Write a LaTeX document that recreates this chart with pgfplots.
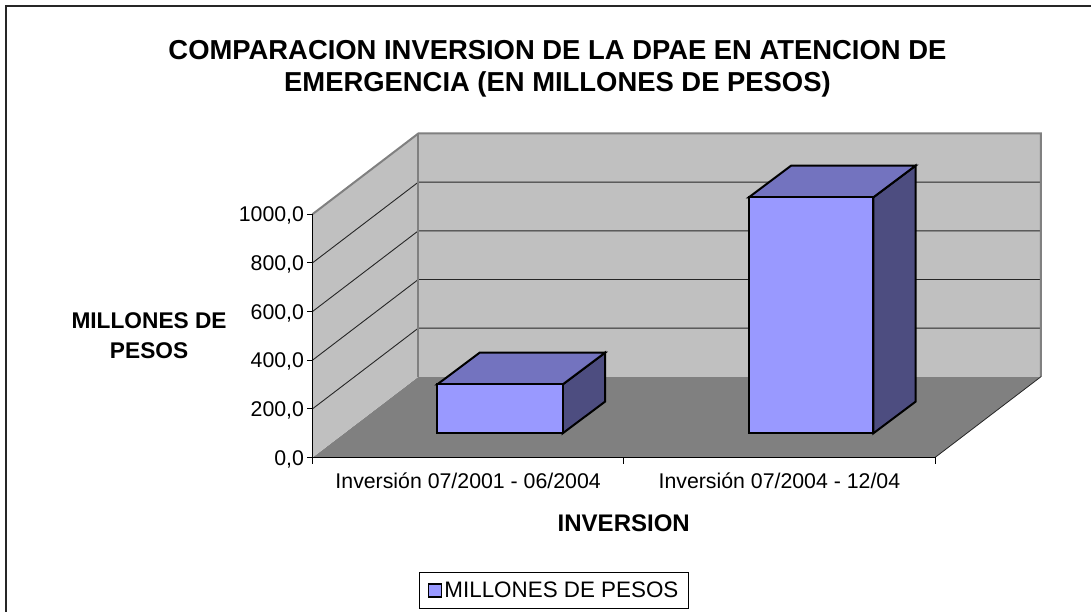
\documentclass[border=0pt]{standalone}
\usepackage{pgfplots}
\pgfplotsset{compat=1.18}
\usepackage{fontspec}
\setmainfont{Liberation Sans}
\definecolor{wall}{RGB}{192,192,192}
\definecolor{floorc}{RGB}{128,128,128}
\definecolor{barfront}{RGB}{153,153,255}
\definecolor{bartop}{RGB}{115,115,191}
\definecolor{barside}{RGB}{77,77,128}
\pgfplotsset{
  face/.style={line width=2pt, draw=black, line join=miter, forget plot},
  gridl/.style={line width=0.9pt, draw=black!85, forget plot}
}
\begin{document}
\begin{tikzpicture}[x=1pt,y=1pt]
\path[use as bounding box] (-312.5,-154.5) rectangle (778.5,457.5);
\draw[black!85, line width=1.5pt] (-306.5,-160) -- (-306.5,451.5) -- (780,451.5);
\begin{axis}[
  at={(0pt,0pt)}, anchor=origin,
  x=311.25pt, y=0.2433pt,
  xmin=0, xmax=2, ymin=0, ymax=1000,
  clip=false, axis on top,
  axis lines=left, axis line style={-, line width=1.2pt, black},
  tick align=outside,
  ytick={0,200,400,600,800,1000},
  xtick={0.5,1.5}, xticklabels={Inversión 07/2001 - 06/2004,Inversión 07/2004 - 12/04},
  minor xtick={0,1,2},
  major tick length=5pt, minor tick length=6pt,
  x tick style={draw=none}, minor x tick style={draw=black, line width=0.8pt},
  y tick style={draw=black, line width=0.8pt},
  tick label style={font=\fontsize{21.3}{25}\selectfont},
  /pgf/number format/assume math mode=true,
  yticklabel style={/pgf/number format/fixed, /pgf/number format/fixed zerofill, /pgf/number format/precision=1, /pgf/number format/use comma, /pgf/number format/1000 sep={}, yshift=-1.5pt},
  xticklabel style={yshift=-7pt},
  xlabel={\textbf{INVERSION}},
  xlabel style={at={(axis cs:1,-270)}, anchor=center, font=\fontsize{24}{28}\selectfont},
  ylabel={\textbf{MILLONES DE}\\[4pt]\textbf{PESOS}},
  ylabel style={at={(axis cs:-0.525,502)}, anchor=center, rotate=-90, align=center, font=\fontsize{22.7}{26}\selectfont},
  title={\textbf{COMPARACION INVERSION DE LA DPAE EN ATENCION DE}\\\textbf{EMERGENCIA (EN MILLONES DE PESOS)}},
  title style={at={(axis cs:0.787,1572)}, anchor=center, align=center, font=\fontsize{27.4}{32}\selectfont},
  legend style={at={(axis cs:0.776,-546)}, anchor=center, draw=black, line width=0.8pt,
    font=\fontsize{22.4}{26}\selectfont, inner xsep=8pt, inner ysep=7pt},
  legend image code/.code={\draw[#1] (0pt,-6.5pt) rectangle (13pt,6.5pt);}
]
% floor and walls
\addplot[fill=floorc, draw=none, forget plot] coordinates {(0,0) (2,0) (2.34,331.7) (0.34,331.7)} --cycle;
\addplot[fill=wall, draw=none, forget plot] coordinates {(0,0) (0.34,331.7) (0.34,1331.7) (0,1000)} --cycle;
\addplot[fill=wall, draw=none, forget plot] coordinates {(0.34,331.7) (2.34,331.7) (2.34,1331.7) (0.34,1331.7)} --cycle;
% gridlines on side wall and back wall
\addplot[gridl] coordinates {(0,200) (0.34,531.7) (2.34,531.7)};
\addplot[gridl] coordinates {(0,400) (0.34,731.7) (2.34,731.7)};
\addplot[gridl] coordinates {(0,600) (0.34,931.7) (2.34,931.7)};
\addplot[gridl] coordinates {(0,800) (0.34,1131.7) (2.34,1131.7)};
% wall edges
\addplot[draw=floorc, line width=2pt, forget plot] coordinates {(0,1000) (0.34,1331.7) (2.34,1331.7) (2.34,331.7)};
\addplot[draw=floorc, line width=2pt, forget plot] coordinates {(0.34,331.7) (0.34,1331.7)};
\addplot[draw=black!85, line width=0.8pt, forget plot] coordinates {(2,0) (2.34,331.7)};
% bar 1, value 201
\addplot[face, fill=barside] coordinates {(0.804,99.5) (0.940,229.8) (0.940,430.8) (0.804,300.5)} --cycle;
\addplot[face, fill=bartop] coordinates {(0.401,300.5) (0.537,430.8) (0.940,430.8) (0.804,300.5)} --cycle;
\addplot[face, fill=barfront] coordinates {(0.401,99.5) (0.804,99.5) (0.804,300.5) (0.401,300.5)} --cycle;
% bar 2, value 970
\addplot[face, fill=barside] coordinates {(1.802,99.5) (1.938,229.8) (1.938,1199.8) (1.802,1069.5)} --cycle;
\addplot[face, fill=bartop] coordinates {(1.402,1069.5) (1.538,1199.8) (1.938,1199.8) (1.802,1069.5)} --cycle;
\addplot[face, fill=barfront] coordinates {(1.402,99.5) (1.802,99.5) (1.802,1069.5) (1.402,1069.5)} --cycle;
% legend key only
\addlegendimage{fill=barfront, draw=black, line width=1.8pt}
\addlegendentry{MILLONES DE PESOS}
\end{axis}
\end{tikzpicture}
\end{document}
